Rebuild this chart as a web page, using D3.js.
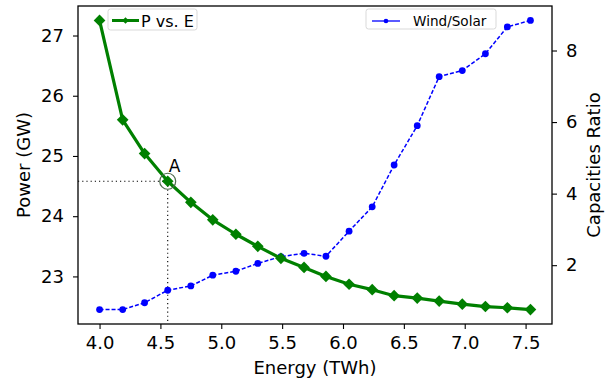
<!DOCTYPE html>
<html>
<head>
<meta charset="utf-8">
<script src="https://cdn.jsdelivr.net/npm/d3@7"></script>
<style>
  body { margin: 0; background: #fff; }
  svg text { font-family: "DejaVu Sans", sans-serif; fill: #000; }
</style>
</head>
<body>
<div id="chart"></div>
<script>
/*
*       Data
*/

// Energy (TWh), shared x for both series
var energy = [4.00, 4.19, 4.37, 4.56, 4.75, 4.93, 5.12, 5.30, 5.49, 5.68,
              5.86, 6.05, 6.24, 6.42, 6.61, 6.79, 6.98, 7.17, 7.35, 7.54];

// Power (GW), left axis
var power = [27.25, 25.60, 25.04, 24.58, 24.23, 23.94, 23.70, 23.50, 23.30, 23.15,
             23.00, 22.87, 22.78, 22.68, 22.64, 22.59, 22.54, 22.50, 22.48, 22.45];

// Wind/Solar capacities ratio, right axis
var ratio = [0.76, 0.76, 0.95, 1.30, 1.42, 1.72, 1.83, 2.05, 2.24, 2.33,
             2.25, 2.95, 3.63, 4.80, 5.90, 7.27, 7.44, 7.91, 8.66, 8.84];

var xTicks = [4.0, 4.5, 5.0, 5.5, 6.0, 6.5, 7.0, 7.5];
var powerTicks = [23, 24, 25, 26, 27];
var ratioTicks = [2, 4, 6, 8];

// Highlighted point "A"
var pointA = 3;

/*
*       Layout
*/
var width = 613, height = 383;
var margin = { left: 78, right: 61, top: 6, bottom: 59 };
var plotW = width - margin.left - margin.right;
var plotH = height - margin.top - margin.bottom;

var svg = d3.select('#chart').append('svg')
    .attr('width', width)
    .attr('height', height);

var g = svg.append('g')
    .attr('transform', 'translate(' + margin.left + ',' + margin.top + ')');

// matplotlib style 5% padding around data
function padded(ext) {
    var pad = (ext[1] - ext[0]) * 0.05;
    return [ext[0] - pad, ext[1] + pad];
}

var x = d3.scaleLinear().domain(padded(d3.extent(energy))).range([0, plotW]);
var yP = d3.scaleLinear().domain(padded(d3.extent(power))).range([plotH, 0]);
var yR = d3.scaleLinear().domain(padded(d3.extent(ratio))).range([plotH, 0]);

/*
*       Axes
*/
var tickFont = '18px';

var xAxis = g.append('g')
    .attr('transform', 'translate(0,' + plotH + ')')
    .call(d3.axisBottom(x).tickValues(xTicks).tickFormat(d3.format('.1f'))
        .tickSize(5).tickSizeOuter(0).tickPadding(7));

var leftAxis = g.append('g')
    .call(d3.axisLeft(yP).tickValues(powerTicks).tickFormat(d3.format('d'))
        .tickSize(5).tickSizeOuter(0).tickPadding(9));

var rightAxis = g.append('g')
    .attr('transform', 'translate(' + plotW + ',0)')
    .call(d3.axisRight(yR).tickValues(ratioTicks).tickFormat(d3.format('d'))
        .tickSize(5).tickSizeOuter(0).tickPadding(9));

[xAxis, leftAxis, rightAxis].forEach(function(a) {
    a.selectAll('text').style('font-size', tickFont).attr('fill', '#000');
    a.selectAll('line').attr('stroke', '#000').attr('stroke-width', 1.1);
    a.select('.domain').remove();
});

// Full frame of the axes
g.append('rect')
    .attr('width', plotW).attr('height', plotH)
    .attr('fill', 'none').attr('stroke', '#000').attr('stroke-width', 1.3);

// Axis titles
svg.append('text')
    .attr('x', margin.left + plotW / 2).attr('y', 374)
    .attr('text-anchor', 'middle').style('font-size', '18px')
    .text('Energy (TWh)');

svg.append('text')
    .attr('transform', 'translate(30,' + (margin.top + plotH / 2) + ') rotate(-90)')
    .attr('text-anchor', 'middle').style('font-size', '18px')
    .text('Power (GW)');

svg.append('text')
    .attr('transform', 'translate(600,' + (margin.top + plotH / 2) + ') rotate(-90)')
    .attr('text-anchor', 'middle').style('font-size', '18px')
    .text('Capacities Ratio');

/*
*       Guide lines to point A
*/
var ax = x(energy[pointA]), ay = yP(power[pointA]);

g.append('line')
    .attr('x1', 0).attr('x2', ax).attr('y1', ay).attr('y2', ay)
    .attr('stroke', '#000').attr('stroke-width', 1.1).attr('stroke-dasharray', '1.2,3');
g.append('line')
    .attr('x1', ax).attr('x2', ax).attr('y1', ay).attr('y2', plotH)
    .attr('stroke', '#000').attr('stroke-width', 1.1).attr('stroke-dasharray', '1.2,3');

/*
*       Wind/Solar series (dashed blue, dots)
*/
var ratioData = energy.map(function(e, i) { return [e, ratio[i]]; });
var powerData = energy.map(function(e, i) { return [e, power[i]]; });

g.append('path')
    .datum(ratioData)
    .attr('fill', 'none').attr('stroke', 'blue').attr('stroke-width', 1.5)
    .attr('stroke-dasharray', '4,2')
    .attr('d', d3.line().x(function(d) { return x(d[0]); }).y(function(d) { return yR(d[1]); }));

g.append('g').selectAll('circle')
    .data(ratioData)
    .enter().append('circle')
    .attr('cx', function(d) { return x(d[0]); })
    .attr('cy', function(d) { return yR(d[1]); })
    .attr('r', 3.4)
    .attr('fill', 'blue');

/*
*       P vs. E series (thick green, diamonds)
*/
g.append('path')
    .datum(powerData)
    .attr('fill', 'none').attr('stroke', 'green').attr('stroke-width', 3.2)
    .attr('stroke-linejoin', 'round')
    .attr('d', d3.line().x(function(d) { return x(d[0]); }).y(function(d) { return yP(d[1]); }));

var diamond = d3.symbol().type(d3.symbolSquare).size(68);
g.append('g').selectAll('path')
    .data(powerData)
    .enter().append('path')
    .attr('d', diamond)
    .attr('transform', function(d) { return 'translate(' + x(d[0]) + ',' + yP(d[1]) + ') rotate(45)'; })
    .attr('fill', 'green');

// Circle + label for A
g.append('circle')
    .attr('cx', ax).attr('cy', ay).attr('r', 8)
    .attr('fill', 'none').attr('stroke', '#4e6b4e').attr('stroke-width', 1.2);

g.append('text')
    .attr('x', ax + 1).attr('y', ay - 9)
    .style('font-size', '17px')
    .text('A');

/*
*       Legends
*/
function legendBox(x0, y0, w, h) {
    svg.append('rect')
        .attr('x', x0).attr('y', y0).attr('width', w).attr('height', h)
        .attr('rx', 2.5)
        .attr('fill', 'rgba(255,255,255,0.8)').attr('stroke', '#d9d9d9').attr('stroke-width', 1);
}

// P vs. E
legendBox(108, 9, 89, 21);
svg.append('line')
    .attr('x1', 112).attr('x2', 139).attr('y1', 20.5).attr('y2', 20.5)
    .attr('stroke', 'green').attr('stroke-width', 3);
svg.append('path')
    .attr('d', d3.symbol().type(d3.symbolSquare).size(22))
    .attr('transform', 'translate(125.5,20.5) rotate(45)')
    .attr('fill', 'green');
svg.append('text')
    .attr('x', 141).attr('y', 26.5)
    .style('font-size', '16px')
    .text('P vs. E');

// Wind/Solar
legendBox(366, 9, 130, 20);
svg.append('line')
    .attr('x1', 372).attr('x2', 400).attr('y1', 21).attr('y2', 21)
    .attr('stroke', 'blue').attr('stroke-width', 1.3);
svg.append('circle')
    .attr('cx', 386).attr('cy', 21).attr('r', 2.3)
    .attr('fill', 'blue');
svg.append('text')
    .attr('x', 413).attr('y', 25.5)
    .style('font-size', '13.6px')
    .text('Wind/Solar');
</script>
</body>
</html>
